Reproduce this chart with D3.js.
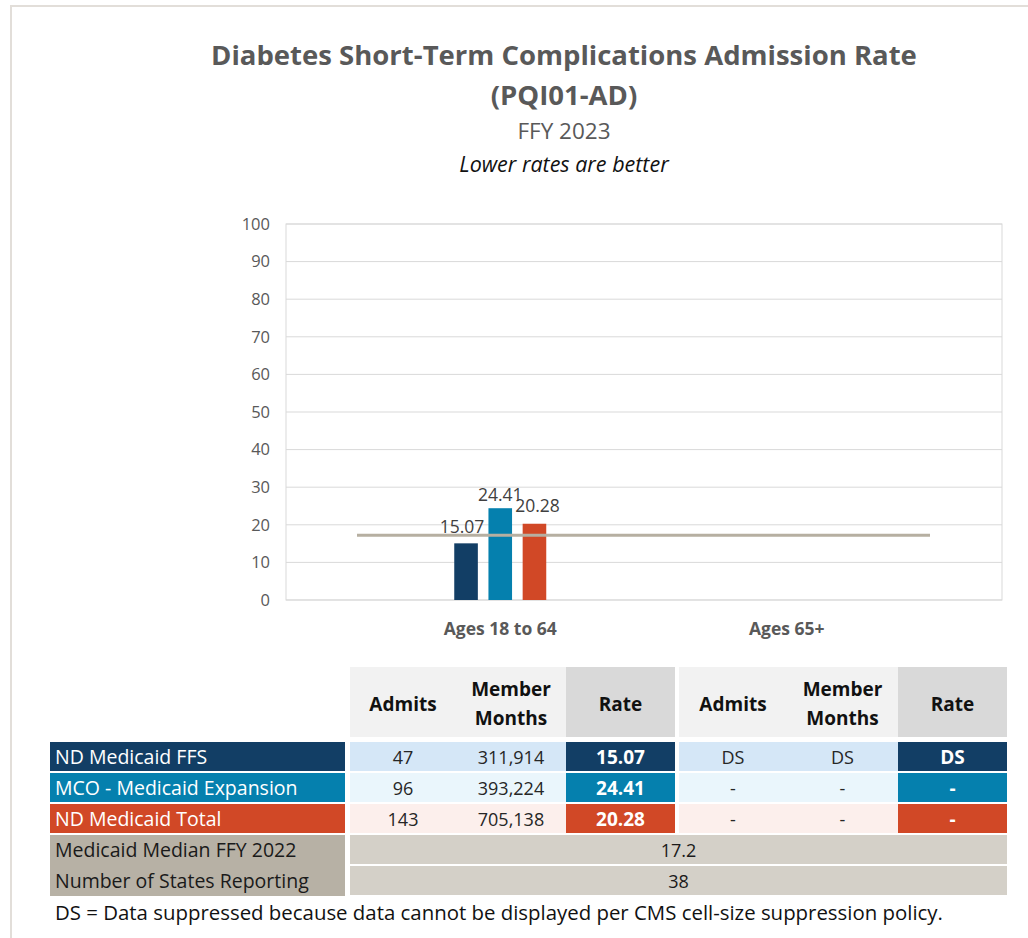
<!DOCTYPE html>
<html>
<head>
<meta charset="utf-8">
<script src="https://cdn.jsdelivr.net/npm/d3@7"></script>
<style>
  body { margin: 0; background: #fff; }
  svg { display: block; font-family: "Open Sans", "Noto Sans", sans-serif; }
</style>
</head>
<body>
<div id="main"></div>
<script>
// chart data
const categories = ["Ages 18 to 64", "Ages 65+"];
const seriesNames = ["ND Medicaid FFS", "MCO - Medicaid Expansion", "ND Medicaid Total"];
const rates18to64 = [15.07, 24.41, 20.28];
const rates65plus = [null, null, null];
const admits18to64 = ["47", "96", "143"];
const months18to64 = ["311,914", "393,224", "705,138"];
const admits65plus = ["DS", "-", "-"];
const months65plus = ["DS", "-", "-"];
const rateText65plus = ["DS", "-", "-"];
const medianRate = 17.2;
const statesReporting = 38;
const yTicks = [0, 10, 20, 30, 40, 50, 60, 70, 80, 90, 100];

const seriesColors = ["#123e65", "#0580ae", "#d14826"];
const rowTints = ["#d5e7f7", "#eaf6fc", "#fcefec"];

const width = 1028;
const height = 938;

const svg = d3.select("#main")
  .append("svg")
  .attr("width", width)
  .attr("height", height);

// outer frame
svg.append("rect")
  .attr("x", 11).attr("y", 6)
  .attr("width", 1040).attr("height", 960)
  .attr("fill", "none")
  .attr("stroke", "#e2ded9")
  .attr("stroke-width", 2);

// titles
const titleX = 564;
svg.append("text")
  .attr("x", titleX).attr("y", 65)
  .attr("text-anchor", "middle")
  .attr("font-size", 27.5).attr("font-weight", 700)
  .attr("fill", "#595959")
  .text("Diabetes Short-Term Complications Admission Rate");
svg.append("text")
  .attr("x", titleX).attr("y", 105)
  .attr("text-anchor", "middle")
  .attr("font-size", 27.5).attr("font-weight", 700)
  .attr("fill", "#595959")
  .text("(PQI01-AD)");
svg.append("text")
  .attr("x", titleX).attr("y", 139)
  .attr("text-anchor", "middle")
  .attr("font-size", 22.5)
  .attr("fill", "#595959")
  .text("FFY 2023");
svg.append("text")
  .attr("x", titleX).attr("y", 172)
  .attr("text-anchor", "middle")
  .attr("font-size", 21.5).attr("font-style", "italic")
  .attr("fill", "#111")
  .text("Lower rates are better");

// plot area
const plot = { left: 286, right: 1002, top: 224, bottom: 600 };

const yScale = d3.scaleLinear()
  .domain([0, 100])
  .range([plot.bottom, plot.top]);

const xScale = d3.scaleBand()
  .domain(categories)
  .range([357, 930]);

const innerScale = d3.scaleBand()
  .domain(seriesNames)
  .range([-46, 46])
  .paddingInner(0.31);

// gridlines
svg.append("g")
  .selectAll("line")
  .data(yTicks)
  .enter()
  .append("line")
  .attr("x1", plot.left).attr("x2", plot.right)
  .attr("y1", d => yScale(d)).attr("y2", d => yScale(d))
  .attr("stroke", "#d9d9d9");

svg.append("rect")
  .attr("x", plot.left).attr("y", plot.top)
  .attr("width", plot.right - plot.left)
  .attr("height", plot.bottom - plot.top)
  .attr("fill", "none")
  .attr("stroke", "#d9d9d9");

// y axis labels
const yAxis = d3.axisLeft(yScale).tickValues(yTicks).tickSize(0).tickPadding(0);
svg.append("g")
  .attr("transform", `translate(270, 0)`)
  .call(yAxis)
  .call(g => g.select(".domain").remove())
  .call(g => g.selectAll(".tick text")
    .attr("font-size", 16.5)
    .attr("font-family", "Open Sans")
    .attr("fill", "#595959"));

// x axis labels
const xAxis = d3.axisBottom(xScale).tickSize(0).tickPadding(0);
svg.append("g")
  .attr("transform", `translate(0, 623)`)
  .call(xAxis)
  .call(g => g.select(".domain").remove())
  .call(g => g.selectAll(".tick text")
    .attr("font-size", 17.5)
    .attr("font-weight", 700)
    .attr("font-family", "Open Sans")
    .attr("fill", "#595959"));

// bars
const barData = [];
categories.forEach((c, ci) => {
  const vals = ci === 0 ? rates18to64 : rates65plus;
  seriesNames.forEach((s, si) => {
    barData.push({ cat: c, series: s, value: vals[si], color: seriesColors[si] });
  });
});
const shownBars = barData.filter(d => d.value != null);

svg.append("g")
  .selectAll("rect")
  .data(shownBars)
  .enter()
  .append("rect")
  .attr("x", d => xScale(d.cat) + xScale.bandwidth() / 2 + innerScale(d.series))
  .attr("y", d => yScale(d.value))
  .attr("width", innerScale.bandwidth())
  .attr("height", d => yScale(0) - yScale(d.value))
  .attr("fill", d => d.color);

// median line
svg.append("line")
  .attr("x1", xScale.range()[0]).attr("x2", xScale.range()[1])
  .attr("y1", yScale(medianRate)).attr("y2", yScale(medianRate))
  .attr("stroke", "#b6afa1")
  .attr("stroke-width", 3);

// data labels (excel nudges them a little)
const labelNudge = [[-4, -10], [0, -7], [3, -12]];
svg.append("g")
  .selectAll("text")
  .data(shownBars)
  .enter()
  .append("text")
  .attr("x", (d, i) => xScale(d.cat) + xScale.bandwidth() / 2 + innerScale(d.series) + innerScale.bandwidth() / 2 + labelNudge[i][0])
  .attr("y", (d, i) => yScale(d.value) + labelNudge[i][1])
  .attr("text-anchor", "middle")
  .attr("font-size", 17.5)
  .attr("fill", "#404040")
  .text(d => d.value.toFixed(2));

// ---------- table ----------
const groupCols = [
  { x0: 350, x1: 456 }, { x0: 456, x1: 566 }, { x0: 566, x1: 675 },
  { x0: 679, x1: 787 }, { x0: 787, x1: 898 }, { x0: 898, x1: 1007 }
];
const headerLabels = [["Admits"], ["Member", "Months"], ["Rate"], ["Admits"], ["Member", "Months"], ["Rate"]];
const table = svg.append("g");

// header backgrounds
[[350, 566, "#f2f2f2"], [566, 675, "#d9d9d9"], [679, 898, "#f2f2f2"], [898, 1007, "#d9d9d9"]]
  .forEach(b => {
    table.append("rect")
      .attr("x", b[0]).attr("y", 667)
      .attr("width", b[1] - b[0]).attr("height", 70)
      .attr("fill", b[2]);
  });

groupCols.forEach((c, i) => {
  const lines = headerLabels[i];
  const cx = (c.x0 + c.x1) / 2;
  const t = table.append("text")
    .attr("x", cx)
    .attr("text-anchor", "middle")
    .attr("font-size", 19).attr("font-weight", 700)
    .attr("fill", "#111");
  if (lines.length === 1) {
    t.attr("y", 711).text(lines[0]);
  } else {
    t.append("tspan").attr("x", cx).attr("y", 696).text(lines[0]);
    t.append("tspan").attr("x", cx).attr("y", 725).text(lines[1]);
  }
});

// data rows
const rowTops = [742, 773, 804];
const rowH = 29;
seriesNames.forEach((name, i) => {
  const y = rowTops[i];
  table.append("rect")
    .attr("x", 50).attr("y", y).attr("width", 295).attr("height", rowH)
    .attr("fill", seriesColors[i]);
  table.append("text")
    .attr("x", 55).attr("y", y + 22)
    .attr("font-size", 19.5).attr("fill", "#fff")
    .text(name);

  const cells = [
    { text: admits18to64[i], c: groupCols[0], rate: false },
    { text: months18to64[i], c: groupCols[1], rate: false },
    { text: rates18to64[i].toFixed(2), c: groupCols[2], rate: true },
    { text: admits65plus[i], c: groupCols[3], rate: false },
    { text: months65plus[i], c: groupCols[4], rate: false },
    { text: rateText65plus[i], c: groupCols[5], rate: true }
  ];
  // tinted backgrounds, merged across admits + months
  [[350, 566], [679, 898]].forEach(b => {
    table.append("rect")
      .attr("x", b[0]).attr("y", y).attr("width", b[1] - b[0]).attr("height", rowH)
      .attr("fill", rowTints[i]);
  });
  cells.forEach(cell => {
    if (cell.rate) {
      table.append("rect")
        .attr("x", cell.c.x0).attr("y", y)
        .attr("width", cell.c.x1 - cell.c.x0).attr("height", rowH)
        .attr("fill", seriesColors[i]);
    }
    table.append("text")
      .attr("x", (cell.c.x0 + cell.c.x1) / 2).attr("y", y + 22)
      .attr("text-anchor", "middle")
      .attr("font-size", cell.rate ? 19 : 18)
      .attr("font-weight", cell.rate ? 700 : 400)
      .attr("fill", cell.rate ? "#fff" : "#262626")
      .text(cell.text);
  });
});

// median + states rows
table.append("rect")
  .attr("x", 50).attr("y", 835).attr("width", 295).attr("height", 61)
  .attr("fill", "#b7b1a5");
const footRows = [
  { label: "Medicaid Median FFY 2022", value: String(medianRate), y: 835 },
  { label: "Number of States Reporting", value: String(statesReporting), y: 866 }
];
footRows.forEach(r => {
  table.append("rect")
    .attr("x", 350).attr("y", r.y).attr("width", 657).attr("height", 29)
    .attr("fill", "#d4d0c8");
  table.append("text")
    .attr("x", 55).attr("y", r.y + 22)
    .attr("font-size", 19.5).attr("fill", "#1a1a1a")
    .text(r.label);
  table.append("text")
    .attr("x", (350 + 1007) / 2).attr("y", r.y + 22)
    .attr("text-anchor", "middle")
    .attr("font-size", 18).attr("fill", "#1a1a1a")
    .text(r.value);
});

// footnote
svg.append("text")
  .attr("x", 55).attr("y", 920)
  .attr("font-size", 20.4).attr("fill", "#111")
  .text("DS = Data suppressed because data cannot be displayed per CMS cell-size suppression policy.");
</script>
</body>
</html>
